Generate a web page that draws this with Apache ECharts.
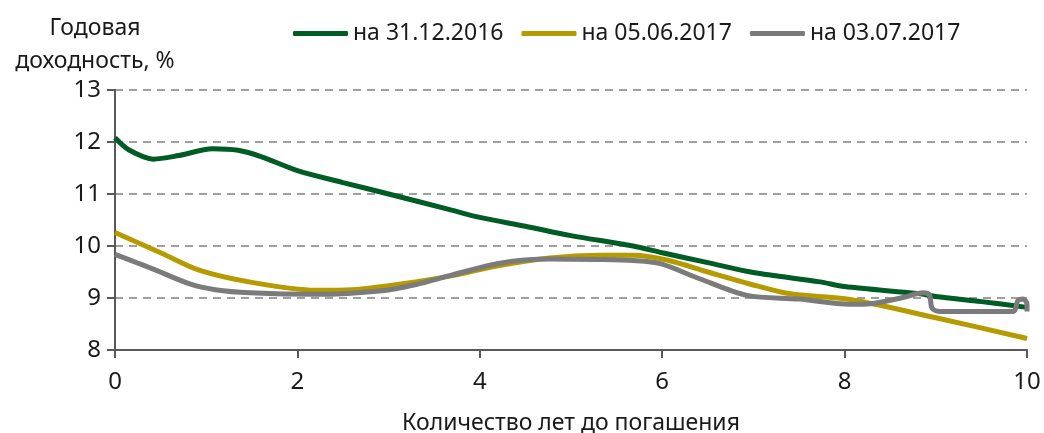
<!DOCTYPE html>
<html><head><meta charset="utf-8">
<script src="https://cdn.jsdelivr.net/npm/echarts@6/dist/echarts.min.js"></script>
<style>html,body{margin:0;padding:0;background:#fff}#c{width:1044px;height:433px}</style>
</head><body><div id="c"></div>
<script>
const seriesNames = ['на 31.12.2016', 'на 05.06.2017', 'на 03.07.2017'];
const xTicks = [0, 2, 4, 6, 8, 10];
const yTicks = [8, 9, 10, 11, 12, 13];

const greenX = [0, 0.15, 0.42, 0.7, 1.07, 1.35, 1.6, 2, 2.5, 3, 3.67, 4, 4.5, 5, 5.68, 6, 6.5, 7, 7.73, 8, 8.83, 9, 9.5, 10];
const greenY = [12.08, 11.85, 11.67, 11.74, 11.87, 11.84, 11.72, 11.45, 11.22, 11.0, 10.7, 10.55, 10.38, 10.2, 10.0, 9.87, 9.68, 9.49, 9.31, 9.22, 9.08, 9.03, 8.93, 8.82];

const yellowX = [0, 0.5, 0.93, 1.5, 2.2, 2.6, 3.1, 3.67, 4.2, 4.77, 5.3, 5.68, 6.05, 6.5, 6.96, 7.4, 8.06, 9, 10];
const yellowY = [10.26, 9.87, 9.53, 9.3, 9.15, 9.16, 9.26, 9.42, 9.62, 9.77, 9.82, 9.82, 9.73, 9.5, 9.27, 9.08, 8.97, 8.62, 8.22];

const grayX = [0, 0.4, 0.82, 1.1, 1.48, 2.2, 2.93, 3.3, 3.67, 4.22, 4.77, 5.3, 5.68, 5.98, 6.41, 6.93, 7.5, 8.06, 8.28, 8.64, 8.86, 8.93, 8.96, 9.05, 9.4, 9.85, 9.9, 9.96, 10.0, 10.0];
const grayY = [9.84, 9.57, 9.27, 9.16, 9.1, 9.07, 9.14, 9.26, 9.43, 9.67, 9.75, 9.74, 9.72, 9.66, 9.37, 9.05, 8.98, 8.88, 8.89, 9.01, 9.1, 9.06, 8.8, 8.74, 8.74, 8.74, 8.95, 8.98, 8.88, 8.74];

const colors = ['#005c25', '#b59a00', '#7b7b7b'];
const pairs = (xs, ys) => xs.map((x, i) => [x, ys[i]]);
const font = 'Noto Sans';

const chart = echarts.init(document.getElementById('c'), null, {renderer: 'canvas'});
chart.setOption({
  animation: false,
  color: colors,
  textStyle: {fontFamily: font},
  grid: {left: 115, right: 17, top: 90, bottom: 83, containLabel: false, outerBoundsMode: 'none'},
  legend: {
    left: 288, top: 17, itemWidth: 55, itemHeight: 5, itemGap: 18,
    icon: 'roundRect',
    textStyle: {fontSize: 23, color: '#1a1a1a', fontFamily: font},
    data: seriesNames
  },
  xAxis: {
    type: 'value', min: xTicks[0], max: xTicks[xTicks.length - 1], interval: 2,
    name: 'Количество лет до погашения', nameLocation: 'middle', nameGap: 62,
    nameTextStyle: {fontSize: 23, color: '#1a1a1a'},
    axisLine: {lineStyle: {color: '#595959', width: 2}},
    axisTick: {show: true, length: 8, lineStyle: {color: '#595959', width: 2}},
    axisLabel: {fontSize: 24, color: '#1a1a1a', margin: 20},
    splitLine: {show: false}
  },
  yAxis: {
    type: 'value', min: yTicks[0], max: yTicks[yTicks.length - 1], interval: 1,
    name: 'Годовая\nдоходность, %', nameLocation: 'end', nameGap: 12,
    nameTextStyle: {fontSize: 23, color: '#1a1a1a', lineHeight: 33, align: 'center', padding: [0, 40, 0, 0]},
    axisLine: {show: true, lineStyle: {color: '#595959', width: 2}},
    axisTick: {show: true, length: 8, lineStyle: {color: '#595959', width: 2}},
    axisLabel: {fontSize: 24, color: '#1a1a1a', margin: 14},
    splitLine: {show: true, lineStyle: {color: '#808080', width: 1.5, type: [8, 6]}}
  },
  series: [
    {name: seriesNames[0], type: 'line', data: pairs(greenX, greenY), smooth: 0.3, symbol: 'none', lineStyle: {width: 5, color: colors[0]}, z: 3},
    {name: seriesNames[1], type: 'line', data: pairs(yellowX, yellowY), smooth: 0.3, symbol: 'none', lineStyle: {width: 5, color: colors[1]}, z: 2},
    {name: seriesNames[2], type: 'line', data: pairs(grayX, grayY), smooth: 0.3, symbol: 'none', lineStyle: {width: 5, color: colors[2]}, z: 4}
  ]
});
</script></body></html>
